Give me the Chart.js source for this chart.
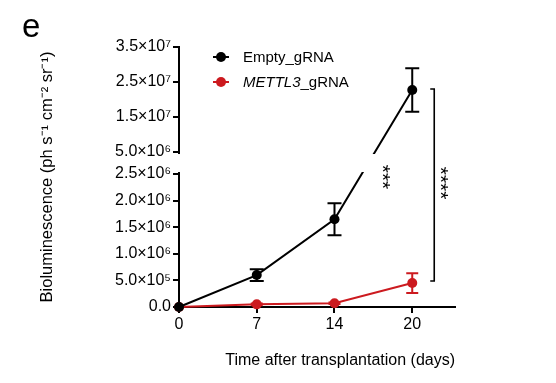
<!DOCTYPE html>
<html><head><meta charset="utf-8">
<script src="https://cdn.jsdelivr.net/npm/chart.js@4.4.0/dist/chart.umd.min.js"></script>
<style>html,body{margin:0;padding:0;background:#fff}#wrap{width:556px;height:383px;position:relative}</style>
</head><body><div id="wrap"><canvas id="c" width="556" height="383"></canvas></div>
<script>
// ---- data ----
const days = ['0', '7', '14', '20'];
const seriesNames = ['Empty_gRNA', 'METTL3_gRNA'];
const emptyMean = [0, 6.0e5, 1.65e6, 2.27e7];
const emptySem  = [0, 1.1e5, 3.0e5, 6.2e6];
const mettlMean = [0, 5e4, 7e4, 4.5e5];
const mettlSem  = [0, 1.5e4, 1.5e4, 1.85e5];
const yTickValues = [0, 5e5, 1e6, 1.5e6, 2e6, 2.5e6, 5e6, 1.5e7, 2.5e7, 3.5e7];
const yTickLabels = ['0.0', '5.0×10⁵', '1.0×10⁶', '1.5×10⁶', '2.0×10⁶', '2.5×10⁶', '5.0×10⁶', '1.5×10⁷', '2.5×10⁷', '3.5×10⁷'];
const yBreak = [2.5e6, 5e6];           // lower segment top, upper segment bottom
const yMax = 3.5e7;
const sigLabels = ['***', '****'];
const yTitle = 'Bioluminescence (ph s⁻¹ cm⁻² sr⁻¹)';
const xTitle = 'Time after transplantation (days)';

// ---- broken (piecewise linear) y scale ----
const FR_LOW = 0.5115, FR_GAP = 0.0846, FR_UP = 1 - FR_LOW - FR_GAP;
function toDecimal(v) {
  if (v <= yBreak[0]) return v / yBreak[0] * FR_LOW;
  if (v >= yBreak[1]) return FR_LOW + FR_GAP + (v - yBreak[1]) / (yMax - yBreak[1]) * FR_UP;
  return FR_LOW + (v - yBreak[0]) / (yBreak[1] - yBreak[0]) * FR_GAP;
}
function fromDecimal(d) {
  if (d <= FR_LOW) return d / FR_LOW * yBreak[0];
  if (d >= FR_LOW + FR_GAP) return yBreak[1] + (d - FR_LOW - FR_GAP) / FR_UP * (yMax - yBreak[1]);
  return yBreak[0] + (d - FR_LOW) / FR_GAP * (yBreak[1] - yBreak[0]);
}
class BrokenScale extends Chart.LinearScale {
  getPixelForValue(value) { return this.getPixelForDecimal(toDecimal(value)); }
  getValueForPixel(pixel) { return fromDecimal(this.getDecimalForPixel(pixel)); }
}
BrokenScale.id = 'broken';
BrokenScale.defaults = Object.assign({}, Chart.LinearScale.defaults);
Chart.register(BrokenScale);

const FONT = '"Liberation Sans", Arial, sans-serif';
const RED = '#cc1a1f';

const overlay = {
  id: 'overlay',
  afterDatasetsDraw(chart) {
    const ctx = chart.ctx, xs = chart.scales.x, ys = chart.scales.y;
    ctx.save();
    const drawErr = (means, sems, color, cap) => {
      ctx.strokeStyle = color; ctx.lineWidth = 2;
      means.forEach((m, i) => {
        if (!sems[i]) return;
        const x = xs.getPixelForValue(i);
        const y1 = ys.getPixelForValue(m + sems[i]);
        const y2 = ys.getPixelForValue(Math.max(0, m - sems[i]));
        ctx.beginPath();
        ctx.moveTo(x, y1); ctx.lineTo(x, y2);
        ctx.moveTo(x - cap, y1); ctx.lineTo(x + cap, y1);
        ctx.moveTo(x - cap, y2); ctx.lineTo(x + cap, y2);
        ctx.stroke();
      });
    };
    drawErr(mettlMean, mettlSem, RED, 6);
    drawErr(emptyMean, emptySem, '#000', 7);
    // axis break band
    const yLo = ys.getPixelForValue(yBreak[0]);
    const yHi = ys.getPixelForValue(yBreak[1]);
    ctx.fillStyle = '#fff';
    ctx.fillRect(xs.left - 2, yHi + 2, xs.right - xs.left + 6, yLo - yHi - 4);
    // significance bracket
    const last = days.length - 1;
    const bx = xs.getPixelForValue(last) + 22;
    const bt = ys.getPixelForValue(emptyMean[last]) - 1;
    const bb = ys.getPixelForValue(mettlMean[last]) - 2;
    ctx.strokeStyle = '#000'; ctx.lineWidth = 1.6;
    ctx.beginPath();
    ctx.moveTo(bx - 4, bt); ctx.lineTo(bx, bt); ctx.lineTo(bx, bb); ctx.lineTo(bx - 4, bb);
    ctx.stroke();
    ctx.fillStyle = '#000';
    ctx.font = '21px ' + FONT;
    ctx.textAlign = 'center'; ctx.textBaseline = 'middle';
    const drawRot = (txt, x, y) => {
      ctx.save(); ctx.translate(x, y); ctx.rotate(Math.PI / 2); ctx.fillText(txt, 0, 0); ctx.restore();
    };
    drawRot(sigLabels[0], xs.getPixelForValue(2.68) - 6, (yLo + yHi) / 2 + 14);
    drawRot(sigLabels[1], bx + 6, (bt + bb) / 2 - 2);
    ctx.restore();
  },
  afterDraw(chart) {
    const ctx = chart.ctx;
    ctx.save();
    // panel letter
    ctx.fillStyle = '#000';
    ctx.font = '33px ' + FONT;
    ctx.textAlign = 'left'; ctx.textBaseline = 'alphabetic';
    ctx.fillText('e', 22, 37);
    // legend
    const items = [
      {y: 57, color: '#000', r: 5},
      {y: 82, color: RED, r: 5}
    ];
    items.forEach((it, k) => {
      ctx.strokeStyle = it.color; ctx.lineWidth = 2;
      ctx.beginPath(); ctx.moveTo(213, it.y); ctx.lineTo(229, it.y); ctx.stroke();
      ctx.fillStyle = it.color;
      ctx.beginPath(); ctx.arc(221, it.y, it.r, 0, Math.PI * 2); ctx.fill();
      ctx.fillStyle = '#000'; ctx.textBaseline = 'middle';
      const name = seriesNames[k];
      const cut = name.indexOf('_');
      if (k === 1) {
        ctx.font = 'italic 15px ' + FONT;
        const a = name.slice(0, cut);
        ctx.fillText(a, 243, it.y + 1);
        const w = ctx.measureText(a).width;
        ctx.font = '15px ' + FONT;
        ctx.fillText(name.slice(cut), 243 + w, it.y + 1);
      } else {
        ctx.font = '15px ' + FONT;
        ctx.fillText(name, 243, it.y + 1);
      }
    });
    ctx.restore();
  }
};

new Chart(document.getElementById('c'), {
  type: 'line',
  data: {
    datasets: [
      {label: seriesNames[0], data: emptyMean.map((v, i) => ({x: i, y: v})),
       borderColor: '#000', backgroundColor: '#000', borderWidth: 2, pointRadius: 5, pointBorderWidth: 0, clip: false},
      {label: seriesNames[1], data: mettlMean.map((v, i) => ({x: i, y: v})),
       borderColor: RED, backgroundColor: RED, borderWidth: 2, pointRadius: 5, pointBorderWidth: 0, clip: false}
    ]
  },
  options: {
    responsive: false, animation: false,
    layout: {padding: {left: 38, top: 47, right: 101, bottom: 13}},
    plugins: {legend: {display: false}, tooltip: {enabled: false}},
    scales: {
      x: {
        type: 'linear', min: 0, max: 3.55,
        afterBuildTicks: s => { s.ticks = days.map((d, i) => ({value: i})); },
        afterFit: s => { s.height = 63; },
        ticks: {callback: v => days[v], color: '#000', font: {family: FONT, size: 16}, padding: 2, maxRotation: 0, autoSkip: false},
        grid: {drawOnChartArea: false, drawTicks: true, tickLength: 6, color: '#000', lineWidth: 2},
        border: {color: '#000', width: 2},
        title: {display: true, text: xTitle, align: 'end', color: '#000', font: {family: FONT, size: 16, lineHeight: 1.2}, padding: 0}
      },
      y: {
        type: 'broken', min: 0, max: yMax,
        afterBuildTicks: s => { s.ticks = yTickValues.map(v => ({value: v})); },
        afterFit: s => { s.width = 141; },
        ticks: {callback: (v, i) => yTickLabels[i], color: '#000', font: {family: FONT, size: 16}, padding: 2, autoSkip: false},
        grid: {drawOnChartArea: false, drawTicks: true, tickLength: 6, color: '#000', lineWidth: 2},
        border: {color: '#000', width: 2},
        title: {display: true, text: yTitle, color: '#000', font: {family: FONT, size: 16.5, lineHeight: 1.2}, padding: 0}
      }
    }
  },
  plugins: [overlay]
});
</script></body></html>
